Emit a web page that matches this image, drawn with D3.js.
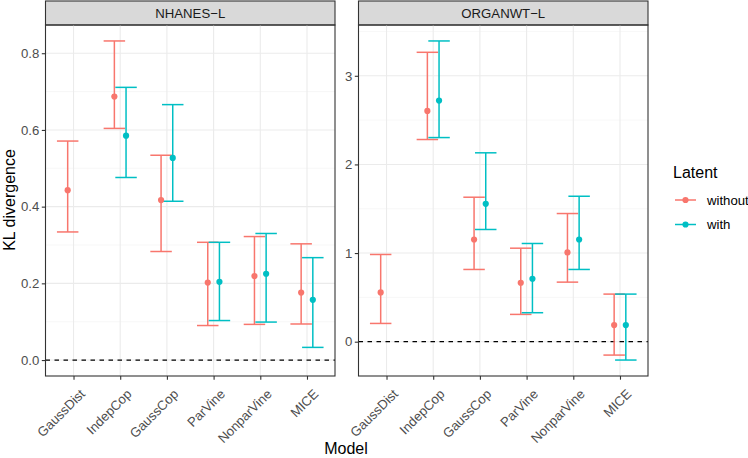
<!DOCTYPE html>
<html><head><meta charset="utf-8">
<script src="https://cdn.jsdelivr.net/npm/d3@7"></script>
<style>body{margin:0;background:#fff}svg{display:block;font-family:"Liberation Sans",Arial,sans-serif}</style>
</head><body><svg id="c" width="748" height="458"></svg>
<script>
const models = ["GaussDist","IndepCop","GaussCop","ParVine","NonparVine","MICE"];
const panels = ["NHANES−L","ORGANWT−L"];
const latent = ["without","with"];
const colors = ["#F8766D","#00BFC4"];
// NHANES-L
const nhWithoutMean = [0.443,0.687,0.417,0.202,0.219,0.176];
const nhWithoutLow  = [0.334,0.604,0.283,0.090,0.093,0.094];
const nhWithoutHigh = [0.571,0.832,0.534,0.307,0.322,0.303];
const nhWithMean = [null,0.585,0.527,0.204,0.225,0.157];
const nhWithLow  = [null,0.476,0.414,0.103,0.099,0.033];
const nhWithHigh = [null,0.711,0.666,0.307,0.330,0.267];
// ORGANWT-L
const orWithoutMean = [0.556,2.604,1.153,0.665,1.007,0.187];
const orWithoutLow  = [0.206,2.281,0.815,0.308,0.672,-0.151];
const orWithoutHigh = [0.984,3.265,1.630,1.055,1.446,0.537];
const orWithMean = [null,2.720,1.556,0.710,1.153,0.187];
const orWithLow  = [null,2.303,1.266,0.327,0.815,-0.207];
const orWithHigh = [null,3.393,2.131,1.108,1.641,0.537];
const nhTicks = [0,0.2,0.4,0.6,0.8];
const nhMinor = [0.1,0.3,0.5,0.7];
const orTicks = [0,1,2,3];
const orMinor = [0.5,1.5,2.5,3.5];

function rows(means,lows,highs){
  const out=[];
  latent.forEach((g,gi)=>models.forEach((m,i)=>{
    if(means[gi][i]!=null) out.push({model:m,group:gi,mean:means[gi][i],low:lows[gi][i],high:highs[gi][i]});
  }));
  return out;
}
const panelData = [
  {title:panels[0], data:rows([nhWithoutMean,nhWithMean],[nhWithoutLow,nhWithLow],[nhWithoutHigh,nhWithHigh]), ticks:nhTicks, minor:nhMinor, fmt:d3.format(".1f"), x0:45.5, x1:335},
  {title:panels[1], data:rows([orWithoutMean,orWithMean],[orWithoutLow,orWithLow],[orWithoutHigh,orWithHigh]), ticks:orTicks, minor:orMinor, fmt:d3.format("d"), x0:358.5, x1:648}
];
const svg = d3.select("#c");
const pTop=25, pBottom=376, stripTop=1;
const tickFont = 13.2, titleFont = 16;

panelData.forEach(p=>{
  const lo = Math.min(0,d3.min(p.data,d=>d.low)), hi = Math.max(0,d3.max(p.data,d=>d.high));
  const pad=(hi-lo)*0.05;
  const y = d3.scaleLinear().domain([lo-pad,hi+pad]).range([pBottom,pTop]);
  const x = d3.scalePoint().domain(models).range([p.x0,p.x1]).padding(0.6);
  const step = x.step();
  const off = g => (g===0?-1:1)*0.125*step;
  const capW = 0.46*step;
  const g = svg.append("g");
  // strip
  g.append("rect").attr("x",p.x0).attr("y",stripTop).attr("width",p.x1-p.x0).attr("height",pTop-stripTop)
    .attr("fill","#D9D9D9").attr("stroke","#333333").attr("stroke-width",1.1);
  g.append("text").attr("x",(p.x0+p.x1)/2).attr("y",(pTop+stripTop)/2+4.8).attr("text-anchor","middle")
    .attr("font-size",tickFont).attr("fill","#1A1A1A").text(p.title);
  // grid
  g.selectAll(".mn").data(p.minor.filter(v=>y(v)>pTop&&y(v)<pBottom)).join("line")
    .attr("x1",p.x0).attr("x2",p.x1).attr("y1",d=>y(d)).attr("y2",d=>y(d)).attr("stroke","#F2F2F2").attr("stroke-width",0.6);
  g.selectAll(".mj").data(p.ticks).join("line")
    .attr("x1",p.x0).attr("x2",p.x1).attr("y1",d=>y(d)).attr("y2",d=>y(d)).attr("stroke","#EBEBEB").attr("stroke-width",1.1);
  g.selectAll(".vx").data(models).join("line")
    .attr("x1",d=>x(d)).attr("x2",d=>x(d)).attr("y1",pTop).attr("y2",pBottom).attr("stroke","#EBEBEB").attr("stroke-width",1.1);
  // dashed zero line
  g.append("line").attr("x1",p.x0).attr("x2",p.x1).attr("y1",y(0)).attr("y2",y(0))
    .attr("stroke","#000").attr("stroke-width",1.2).attr("stroke-dasharray","4.5,4.5");
  // error bars
  p.data.forEach(d=>{
    const cx = x(d.model)+off(d.group), c=colors[d.group];
    g.append("line").attr("x1",cx).attr("x2",cx).attr("y1",y(d.low)).attr("y2",y(d.high)).attr("stroke",c).attr("stroke-width",1.5);
    [d.low,d.high].forEach(v=>g.append("line").attr("x1",cx-capW/2).attr("x2",cx+capW/2).attr("y1",y(v)).attr("y2",y(v)).attr("stroke",c).attr("stroke-width",1.5));
  });
  p.data.forEach(d=>{
    g.append("circle").attr("cx",x(d.model)+off(d.group)).attr("cy",y(d.mean)).attr("r",3.1).attr("fill",colors[d.group]);
  });
  // panel border
  g.append("rect").attr("x",p.x0).attr("y",pTop).attr("width",p.x1-p.x0).attr("height",pBottom-pTop)
    .attr("fill","none").attr("stroke","#333333").attr("stroke-width",1.1);
  // y axis
  const ya = g.append("g").attr("transform",`translate(${p.x0},0)`)
    .call(d3.axisLeft(y).tickValues(p.ticks).tickFormat(p.fmt).tickSize(3.7).tickPadding(2.5));
  ya.select(".domain").remove();
  ya.selectAll("line").attr("stroke","#333333").attr("stroke-width",1.1);
  ya.selectAll("text").attr("font-size",tickFont).attr("fill","#4D4D4D").attr("font-family","Liberation Sans, Arial, sans-serif");
  // x axis
  const xa = g.append("g").attr("transform",`translate(0,${pBottom})`)
    .call(d3.axisBottom(x).tickSize(3.7).tickPadding(2));
  xa.select(".domain").remove();
  xa.selectAll("line").attr("stroke","#333333").attr("stroke-width",1.1);
  xa.selectAll("text").attr("font-size",tickFont).attr("fill","#4D4D4D").attr("font-family","Liberation Sans, Arial, sans-serif")
    .attr("text-anchor","end").attr("dy",null).attr("y",0)
    .attr("transform","translate(5,12) rotate(-45)").attr("dominant-baseline","hanging");
});

// axis titles
svg.append("text").attr("x",346).attr("y",454).attr("text-anchor","middle").attr("font-size",titleFont).attr("fill","#000").text("Model");
svg.append("text").attr("transform","translate(15,200) rotate(-90)").attr("text-anchor","middle").attr("font-size",titleFont).attr("fill","#000").text("KL divergence");

// legend
const lg = svg.append("g");
lg.append("text").attr("x",673).attr("y",177.5).attr("font-size",titleFont).attr("fill","#000").text("Latent");
latent.forEach((l,i)=>{
  const yy = 200+i*24.5;
  lg.append("line").attr("x1",675).attr("x2",696).attr("y1",yy).attr("y2",yy).attr("stroke",colors[i]).attr("stroke-width",1.5);
  lg.append("circle").attr("cx",685.5).attr("cy",yy).attr("r",3.1).attr("fill",colors[i]);
  lg.append("text").attr("x",707).attr("y",yy+4.6).attr("font-size",tickFont).attr("fill","#000").text(l);
});
</script></body></html>
